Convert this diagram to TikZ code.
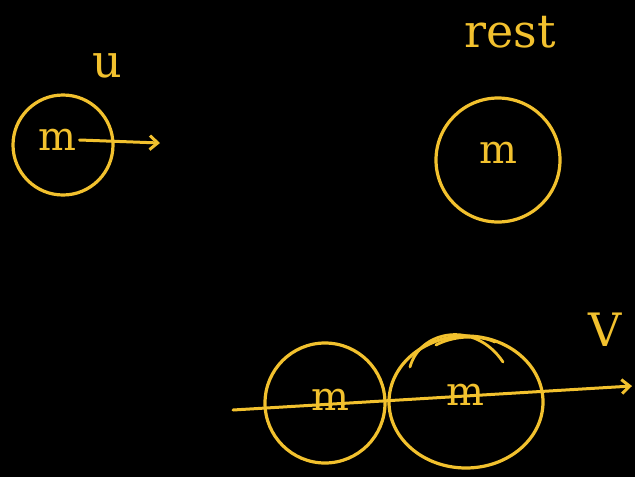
\documentclass[tikz,border=0pt]{standalone}
\usepackage{fontspec}
\setmainfont{DejaVu Serif}
\usetikzlibrary{arrows.meta}
\definecolor{chalk}{HTML}{F2C12E}
\begin{document}
\begin{tikzpicture}[x=1pt,y=-1pt,
  stroke/.style={draw=chalk, line width=3.2pt},
  lbl/.style={text=chalk, font=\fontsize{46}{48}\selectfont},
  mlbl/.style={text=chalk, font=\fontsize{40}{42}\selectfont},
  vel/.style={draw=chalk, line width=3pt, -{Straight Barb[length=8pt,width=14pt]}, line cap=round}]
\fill[black] (0,0) rectangle (635,477);
\useasboundingbox (0,0) rectangle (635,477);
% top-left ball moving with u
\draw[stroke] (63,145) circle (50);
\node[mlbl] (m1) at (57,140) {m};
\coordinate (a1) at (160,143);
\draw[vel] (m1.east) -- (a1);
\node[lbl] (u) at (107,66) {u};
% top-right ball at rest
\draw[stroke] (498,160) circle (62);
\node[mlbl] (m2) at (498,153) {m};
\node[lbl] (rest) at (510,32) {rest};
% bottom: stuck together moving with V
\draw[stroke] (325,403) circle (60);
\draw[stroke] (466,402) ellipse (77 and 66);
\draw[stroke, line width=2.8pt, line cap=round] (410,367) .. controls (420,330) and (475,320) .. (503,362);
\draw[stroke, line width=2.8pt, line cap=round] (436,345) .. controls (455,335) and (480,335) .. (495,342);
\node[mlbl] (m3) at (330,400) {m};
\node[mlbl] (m4) at (465,395) {m};
\coordinate (s) at (233,410);
\coordinate (e) at (632,386);
\draw[vel] (s) -- (e);
\node[lbl] (V) at (605,330) {V};
\end{tikzpicture}
\end{document}
